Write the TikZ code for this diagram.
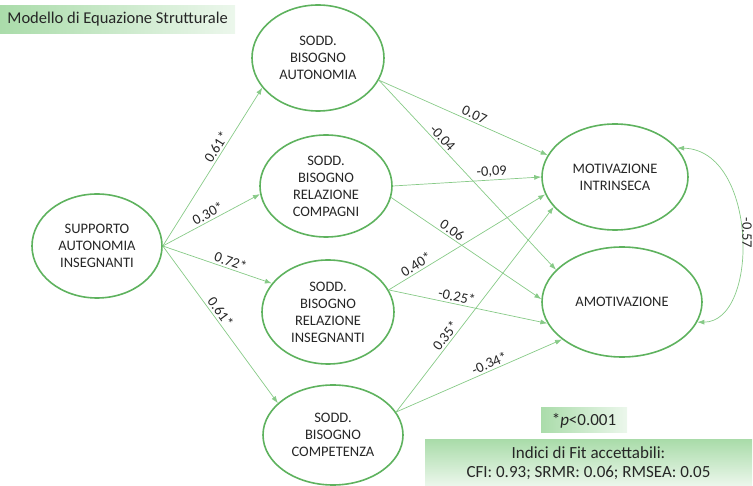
\documentclass[tikz,border=0pt]{standalone}
\usepackage{fontspec}
\setmainfont{Carlito}
\usetikzlibrary{shapes.geometric, arrows.meta}
\definecolor{ringgreen}{RGB}{94,178,94}
\definecolor{linkgreen}{RGB}{135,202,135}
\definecolor{boxgreen}{RGB}{170,220,170}
\definecolor{boxpale}{RGB}{236,247,236}
\definecolor{inkgray}{RGB}{38,38,38}

\begin{document}
\begin{tikzpicture}[x=1pt, y=-1pt, >={Latex[length=7pt,width=5pt]},
  var/.style = {draw=ringgreen, line width=1.6pt, ellipse, align=center, text=inkgray, font=\fontsize{14.5}{17}\selectfont, inner sep=0pt},
  link/.style = {->, draw=linkgreen, line width=0.7pt},
  coef/.style = {sloped, above, text=inkgray, font=\fontsize{14.5}{17}\selectfont, inner sep=2pt},
  banner/.style = {rectangle, text=inkgray, font=\fontsize{17}{19.5}\selectfont, inner sep=0pt, align=center}]
\useasboundingbox (0,0) rectangle (753,486);
% latent variables
\node[var, minimum width=130, minimum height=104] (sup) at (97,246) {SUPPORTO\\AUTONOMIA\\INSEGNANTI};
\node[var, minimum width=132, minimum height=106] (aut) at (318,58) {SODD.\\BISOGNO\\AUTONOMIA};
\node[var, minimum width=132, minimum height=102] (com) at (326,186) {SODD.\\BISOGNO\\RELAZIONE\\COMPAGNI};
\node[var, minimum width=132, minimum height=104] (ins) at (328,312) {SODD.\\BISOGNO\\RELAZIONE\\INSEGNANTI};
\node[var, minimum width=140, minimum height=100] (cmp) at (333,435) {SODD.\\BISOGNO\\COMPETENZA};
\node[var, minimum width=146, minimum height=106] (mot) at (615,177) {MOTIVAZIONE\\INTRINSECA};
\node[var, minimum width=160, minimum height=110] (amo) at (622,302) {AMOTIVAZIONE};
% paths
\draw[link] (sup.east) -- node[coef, pos=0.6] {0.61*} (aut.208);
\draw[link] (sup.east) -- node[coef, pos=0.5] {0.30*} (com.187);
\draw[link] (sup.east) -- node[coef, pos=0.6] {0.72*} (ins.153);
\draw[link] (sup.east) -- node[coef, pos=0.45] {0.61*} (cmp.150);
\draw[link] (aut.340) -- node[coef, pos=0.55] {0.07} (mot.162);
\draw[link] (aut.340) -- node[coef, pos=0.33] {-0.04} (amo.154);
\draw[link] (com.east) -- node[coef, pos=0.67] {-0,09} (mot.180);
\draw[link] (com.350) -- node[coef, pos=0.38] {0.06} (amo.178);
\draw[link] (ins.20) -- node[coef, pos=0.2] {0.40*} (mot.194);
\draw[link] (ins.20) -- node[coef, pos=0.42] {-0.25*} (amo.196);
\draw[link] (cmp.20) -- node[coef, pos=0.35] {0.35*} (mot.206);
\draw[link] (cmp.20) -- node[coef, pos=0.58] {-0.34*} (amo.212);
\draw[link, <->] (mot.25) .. controls (758,150) and (760,322) .. (amo.345);
\node[text=inkgray, font=\fontsize{14.5}{17}\selectfont, inner sep=0pt, rotate=-90] (cov) at (747,233) {-0.57};
% boxes
\node[banner, anchor=north west, left color=boxgreen, right color=boxpale, minimum width=235, minimum height=28, font=\fontsize{16.5}{19}\selectfont] (title) at (0,5) {Modello di Equazione Strutturale};
\node[banner, left color=boxgreen, right color=boxpale, minimum width=86, minimum height=25] (sig) at (584,420.5) {*\textit{p}<0.001};
\node[banner, top color=boxgreen, bottom color=boxpale, minimum width=327, minimum height=46] (fit) at (588.5,463) {Indici di Fit accettabili:\\CFI: 0.93; SRMR: 0.06; RMSEA: 0.05};
\end{tikzpicture}
\end{document}
